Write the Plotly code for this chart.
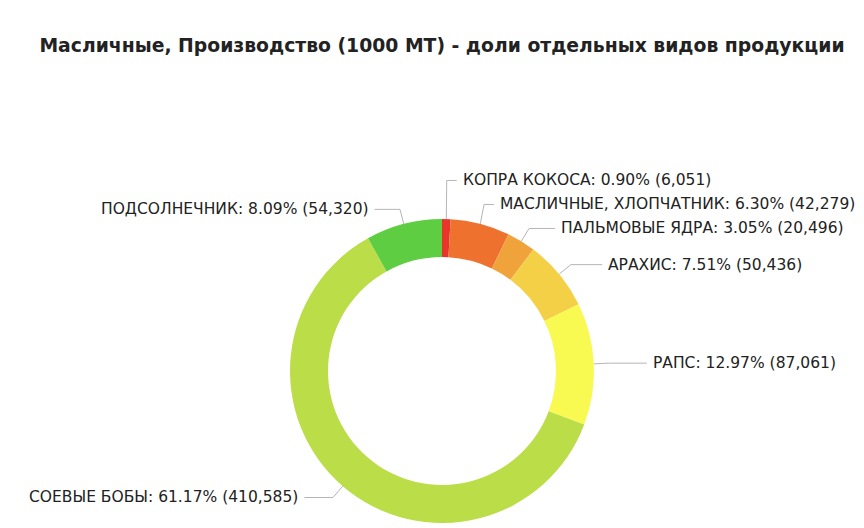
import numpy as np
import plotly.graph_objects as go

W, H = 864, 528
OFF = 8  # page body margin, so pixel positions below are page pixels

title = "Масличные, Производство (1000 МТ) - доли отдельных видов продукции"

crops = ["КОПРА КОКОСА", "МАСЛИЧНЫЕ, ХЛОПЧАТНИК", "ПАЛЬМОВЫЕ ЯДРА", "АРАХИС",
         "РАПС", "СОЕВЫЕ БОБЫ", "ПОДСОЛНЕЧНИК"]
values = [6051, 42279, 20496, 50436, 87061, 410585, 54320]
colors = ["#e8352b", "#ee712e", "#f0a23b", "#f4d047", "#f8fa52", "#bbdd48", "#5ecd41"]

# pie geometry in page pixels (top-left origin)
cx, cy, R = 442, 371, 152
hole = 0.75
# labels sit on an ellipse around the ring
lab_a, lab_b = 209, 172

vals = np.array(values, dtype=float)
frac = vals / vals.sum()
mid = (np.cumsum(frac) - frac / 2) * 2 * np.pi  # clockwise from 12 o'clock

fig = go.Figure()

fig.add_trace(go.Pie(
    labels=crops, values=values, sort=False, direction="clockwise", rotation=0,
    hole=hole, textinfo="none", hoverinfo="label+percent+value",
    marker=dict(colors=colors, line=dict(width=0)),
    domain=dict(x=[(cx - OFF - R) / W, (cx - OFF + R) / W],
                y=[(H - (cy - OFF) - R) / H, (H - (cy - OFF) + R) / H]),
    showlegend=False,
))

# label placement: elbow points just outside the ring, then de-overlap
r_el = R + 15
ex = cx + r_el * np.sin(mid)
ey = cy - r_el * np.cos(mid)
ly = ey.copy()
right = np.sin(mid) >= 0
gap = 24
for side in (right, ~right):
    idx = [i for i in np.argsort(ly) if side[i]]
    for a, b in zip(idx[::-1][1:], idx[::-1][:-1]):
        if ly[b] - ly[a] < gap:
            ly[a] = ly[b] - gap

for i, name in enumerate(crops):
    sx = cx + R * np.sin(mid[i])
    sy = cy - R * np.cos(mid[i])
    side = 1 if right[i] else -1
    q = 1 - ((ly[i] - cy) / lab_b) ** 2
    dx = lab_a * np.sqrt(q) if q > 0 else 0
    tx = max(abs(ex[i] - cx) + 14, dx)
    tx = cx + side * tx
    fig.add_trace(go.Scatter(
        x=[sx, ex[i], tx - side * 4], y=[sy, ly[i], ly[i]], mode="lines",
        line=dict(color="#b5b5b5", width=1), hoverinfo="skip", showlegend=False,
    ))
    pct = frac[i] * 100
    fig.add_annotation(
        x=tx, y=ly[i], xref="x", yref="y",
        text=f"{name}: {pct:.2f}% ({values[i]:,})",
        showarrow=False, xanchor="left" if side > 0 else "right", yanchor="middle",
        font=dict(family="DejaVu Sans", size=15.5, color="#222"),
    )

fig.update_layout(
    width=W, height=H,
    margin=dict(l=0, r=0, t=0, b=0),
    paper_bgcolor="white", plot_bgcolor="white",
    title=dict(text=title, x=(442 - OFF) / W, xanchor="center",
               y=1 - (45 - OFF) / H, yanchor="middle",
               font=dict(family="DejaVu Sans", size=18.8, weight="bold", color="#222")),
    xaxis=dict(range=[OFF, W + OFF], visible=False, fixedrange=True),
    yaxis=dict(range=[H + OFF, OFF], visible=False, fixedrange=True),
)

fig.write_html("out.html")
